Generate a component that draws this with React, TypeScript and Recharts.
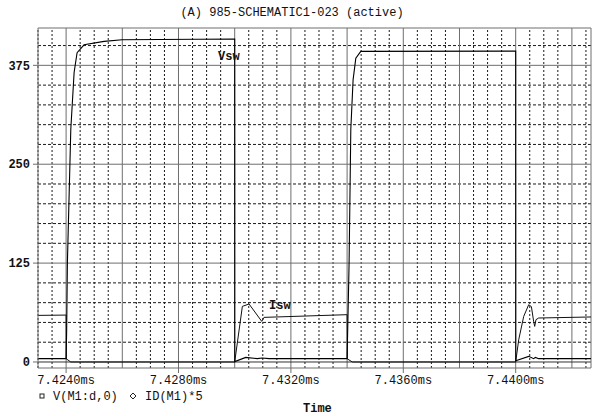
import { LineChart, Line, XAxis, YAxis, ReferenceLine } from "recharts";

// time axis in ms
const X_MIN = 7.423;
const X_MAX = 7.44268;
const Y_MIN = -7.6;
const Y_MAX = 422.2;

const X_TICKS = [7.424, 7.428, 7.432, 7.436, 7.44];
const Y_TICKS = [0, 125, 250, 375];

// V(M1:d,0)
const vswTime = [
  7.423, 7.424, 7.42402, 7.424046, 7.424167, 7.424285, 7.424391, 7.42464, 7.425352,
  7.425992, 7.43, 7.430002, 7.430394, 7.430806, 7.430974, 7.431223, 7.434, 7.434071,
  7.434132, 7.434214, 7.43431, 7.434488, 7.44, 7.440002, 7.440463, 7.44064, 7.440701,
  7.440818, 7.44268
];
const vswVolts = [
  4.2, 4.2, 40, 125, 294, 366, 391, 401, 405.3,
  407.4, 408.3, 0.5, 5.8, 4.2, 5.0, 4.2, 4.2, 125,
  294, 357, 384, 392.7, 393, 1.6, 7.1, 4.2, 5.8,
  4.2, 4.2
];

// ID(M1)*5
const iswTime = [
  7.423, 7.424, 7.424005, 7.424167, 7.43, 7.430273, 7.430511, 7.430963, 7.431045,
  7.434, 7.434005, 7.434186, 7.44, 7.440107, 7.440285, 7.440463, 7.440559, 7.44064,
  7.440676, 7.440722, 7.440818, 7.44268
];
const iswAmps = [
  58.9, 59.3, 4, 0, 0, 70.3, 73.3, 51.3, 56.4,
  59.8, 4, 0, 0, 28, 57.6, 72.4, 70, 51,
  45, 53.5, 55.6, 56.9
];

const vswData = vswTime.map((t, i) => ({ t, v: vswVolts[i] }));
const iswData = iswTime.map((t, i) => ({ t, v: iswAmps[i] }));

const minorX: number[] = [];
for (let i = 0; i <= 39; i++) {
  const t = +(7.423 + i * 0.0005).toFixed(4);
  if (i % 4 !== 2 && t < X_MAX) minorX.push(t);
}
const majorX: number[] = [];
for (let i = 0; i <= 39; i++) {
  const t = +(7.423 + i * 0.0005).toFixed(4);
  if (i % 4 === 2 && t < X_MAX) majorX.push(t);
}
const minorY: number[] = [];
for (let v = 25; v < Y_MAX; v += 25) if (v % 125 !== 0) minorY.push(v);
const majorY = [125, 250, 375];

const FONT = "'Liberation Mono', 'DejaVu Sans Mono', monospace";
const GRID_SOLID = "#6e6e6e";
const GRID_DASH = "#1a1a1a";

export default function App() {
  return (
    <div style={{ position: "absolute", left: 0, top: 0, width: 592, height: 416, background: "#fff" }}>
      <LineChart
        width={592}
        height={416}
        margin={{ top: 28, right: 1, bottom: 0, left: 0 }}
      >
        <XAxis
          dataKey="t"
          type="number"
          domain={[X_MIN, X_MAX]}
          allowDataOverflow
          ticks={X_TICKS}
          tickFormatter={(t: number) => t.toFixed(4) + "ms"}
          height={48}
          tickSize={5}
          tickMargin={2}
          stroke={GRID_SOLID}
          tick={{ fill: "#111", fontSize: 12, fontFamily: FONT }}
        />
        <YAxis
          type="number"
          domain={[Y_MIN, Y_MAX]}
          allowDataOverflow
          ticks={Y_TICKS}
          width={38}
          tickSize={5}
          tickMargin={3}
          stroke={GRID_SOLID}
          tick={{ fill: "#111", fontSize: 12, fontFamily: FONT, fontWeight: 700 }}
        />
        {minorX.map((t) => (
          <ReferenceLine key={"mx" + t} x={t} stroke={GRID_DASH} strokeDasharray="2 2" />
        ))}
        {minorY.map((v) => (
          <ReferenceLine key={"my" + v} y={v} stroke={GRID_DASH} strokeDasharray="3 2" />
        ))}
        {majorX.map((t) => (
          <ReferenceLine key={"Mx" + t} x={t} stroke={GRID_SOLID} />
        ))}
        {majorY.map((v) => (
          <ReferenceLine key={"My" + v} y={v} stroke={GRID_SOLID} />
        ))}
        <ReferenceLine y={0} stroke="#333" />
        <ReferenceLine y={Y_MAX} stroke={GRID_SOLID} />
        <ReferenceLine x={X_MAX} stroke={GRID_SOLID} />
        <Line
          data={iswData}
          dataKey="v"
          type="linear"
          stroke="#111"
          strokeWidth={1}
          dot={false}
          isAnimationActive={false}
        />
        <Line
          data={vswData}
          dataKey="v"
          type="linear"
          stroke="#000"
          strokeWidth={1.1}
          dot={false}
          isAnimationActive={false}
        />
      </LineChart>
      <svg
        width={592}
        height={416}
        style={{ position: "absolute", left: 0, top: 0, pointerEvents: "none" }}
        fontFamily={FONT}
        fontSize={12}
      >
        <text x={292} y={16} textAnchor="middle" fill="#111">
          (A) 985-SCHEMATIC1-023 (active)
        </text>
        <text x={218} y={60} fill="#111" fontWeight={700}>Vsw</text>
        <text x={269} y={309} fill="#111" fontWeight={700}>Isw</text>
        <rect x={40} y={394} width={4} height={4} fill="none" stroke="#222" strokeWidth={1} />
        <text x={53} y={400} fill="#111">V(M1:d,0)</text>
        <path d="M133 393 L136 396 L133 399 L130 396 Z" fill="none" stroke="#222" strokeWidth={1} />
        <text x={145} y={400} fill="#111">ID(M1)*5</text>
        <text x={303} y={412} fill="#111" fontWeight={700}>Time</text>
      </svg>
    </div>
  );
}
